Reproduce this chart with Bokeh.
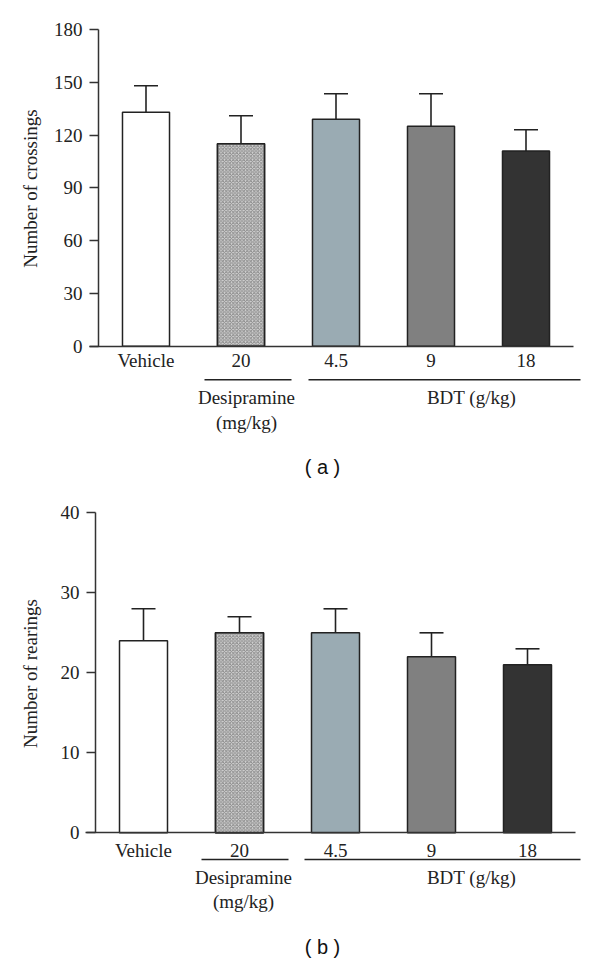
import math
from bokeh.plotting import figure
from bokeh.models import (ColumnDataSource, FixedTicker, Whisker, TeeHead, Label, Range1d)
from bokeh.layouts import column
from bokeh.embed import file_html
from bokeh.resources import INLINE

# ---------------- data ----------------
groups = ["Vehicle", "20", "4.5", "9", "18"]
bar_colors = ["#ffffff", "#d4d4d4", "#9aabb3", "#808080", "#333333"]

crossings_mean = [133, 115, 129, 125, 111]
crossings_sem = [15, 16, 14.5, 18.5, 12]
crossings_ticks = [0, 30, 60, 90, 120, 150, 180]

rearings_mean = [24, 25, 25, 22, 21]
rearings_sem = [4, 2, 3, 3, 2]
rearings_ticks = [0, 10, 20, 30, 40]

SERIF = "Liberation Serif"
SANS = "Liberation Sans"
INK = "#222222"
FIG_W = 600


def panel(means, sems, ticks, ylabel, tag, fig_h, lay):
    """lay holds layout only (pixel positions within this figure)."""
    left, cat_w = lay["left"], lay["cat_w"]
    y0, ytop = lay["y0"], lay["ytop"]
    ymax = ticks[-1]
    ppu = (y0 - ytop) / ymax          # pixels per data unit

    def dx(px):
        return (px - left) / cat_w

    def dy(py):
        return (y0 - py) / ppu

    p = figure(width=FIG_W, height=fig_h,
               x_range=Range1d(dx(0), dx(FIG_W)), y_range=Range1d(dy(fig_h), dy(0)),
               output_backend="svg", toolbar_location=None,
               min_border=0, min_border_left=0, min_border_right=0,
               min_border_top=0, min_border_bottom=0)
    p.outline_line_color = None
    p.xgrid.visible = False
    p.ygrid.visible = False
    p.background_fill_color = "white"
    p.border_fill_color = "white"

    pos = [i + 0.5 for i in range(len(groups))]
    uppers = [m + s for m, s in zip(means, sems)]
    src = ColumnDataSource(dict(x=pos, m=means, u=uppers, c=bar_colors))

    p.add_layout(Whisker(source=src, base="x", lower="m", upper="u", dimension="height",
                         line_color=INK, line_width=1.6, lower_head=None,
                         upper_head=TeeHead(size=24, line_color=INK, line_width=1.6)))
    bw = lay["bar_w"]
    p.vbar(x="x", top="m", bottom=0, width=bw, source=src, fill_color="c",
           line_color=INK, line_width=1.5)
    p.vbar(x=[pos[1]], top=[means[1]], bottom=0, width=bw, fill_alpha=0,
           hatch_pattern="diagonal_cross", hatch_scale=3.5, hatch_weight=1,
           hatch_color="#8a8a8a", line_color=INK, line_width=1.5)

    # y axis, pinned at the left edge of the first category
    ya = p.yaxis[0]
    ya.fixed_location = 0
    ya.bounds = (0, ymax)
    ya.ticker = FixedTicker(ticks=ticks)
    ya.minor_tick_line_color = None
    ya.major_tick_in = 0
    ya.major_tick_out = 9
    ya.major_tick_line_color = "#333333"
    ya.major_tick_line_width = 1.5
    ya.axis_line_color = "#333333"
    ya.axis_line_width = 1.5
    ya.major_label_standoff = 7
    ya.major_label_text_font = SERIF
    ya.major_label_text_font_size = "19px"
    ya.major_label_text_color = INK

    # x axis, pinned at y = 0
    xa = p.xaxis[0]
    xa.fixed_location = 0
    xa.bounds = (dx(lay["xa_start"]), len(groups))
    xa.ticker = FixedTicker(ticks=pos)
    xa.major_label_overrides = {pv: g for pv, g in zip(pos, groups)}
    xa.major_tick_line_color = None
    xa.major_tick_in = 0
    xa.major_tick_out = 0
    xa.minor_tick_line_color = None
    xa.axis_line_color = "#333333"
    xa.axis_line_width = 1.5
    xa.major_label_standoff = lay["xlab_standoff"]
    xa.major_label_text_font = SERIF
    xa.major_label_text_font_size = "19px"
    xa.major_label_text_color = INK

    # y-axis title
    p.add_layout(Label(x=dx(lay["ylab_x"]), y=dy(lay["ylab_y"]), text=ylabel, angle=math.pi / 2,
                       text_font=SERIF, text_font_size="19px", text_color=INK,
                       text_align="center", text_baseline="middle"))

    # group lines and labels under the axis
    ly = dy(lay["line_y"])
    for (a, b) in (lay["desi_line"], lay["bdt_line"]):
        p.segment(x0=[dx(a)], y0=[ly], x1=[dx(b)], y1=[ly], line_color=INK, line_width=1.4)
    common = dict(text_font=SERIF, text_font_size="19px", text_color=INK,
                  text_align="center", text_baseline="middle")
    p.add_layout(Label(x=dx(lay["desi_x"]), y=dy(lay["grp_y"]), text="Desipramine", **common))
    p.add_layout(Label(x=dx(lay["desi_x"]), y=dy(lay["unit_y"]), text="(mg/kg)", **common))
    p.add_layout(Label(x=dx(lay["bdt_x"]), y=dy(lay["grp_y"]), text="BDT (g/kg)", **common))
    p.add_layout(Label(x=dx(lay["tag_x"]), y=dy(lay["tag_y"]), text=tag, text_font=SANS,
                       text_font_size="20px", text_color="#111111",
                       text_align="center", text_baseline="middle"))
    return p


lay_a = dict(left=98, cat_w=95, y0=345.7, ytop=29, bar_w=0.495, xa_start=89,
             xlab_standoff=4, ylab_x=30, ylab_y=188,
             line_y=379.3, desi_line=(204, 291), bdt_line=(308, 580),
             desi_x=246, bdt_x=471, grp_y=396.7, unit_y=421.7, tag_x=322, tag_y=466.7)

# panel (b) figure starts 490 px below the page top; positions below are within it
lay_b = dict(left=95, cat_w=96, y0=342.3, ytop=22.3, bar_w=0.5, xa_start=85,
             xlab_standoff=7, ylab_x=30, ylab_y=183,
             line_y=369, desi_line=(201, 288), bdt_line=(304, 580),
             desi_x=243, bdt_x=471, grp_y=386.7, unit_y=410.7, tag_x=322, tag_y=456.7)

p1 = panel(crossings_mean, crossings_sem, crossings_ticks, "Number of crossings", "( a )",
           490, lay_a)
p2 = panel(rearings_mean, rearings_sem, rearings_ticks, "Number of rearings", "( b )",
           470, lay_b)

layout = column(p1, p2, spacing=0)
open("out.html", "w").write(file_html(layout, INLINE))
